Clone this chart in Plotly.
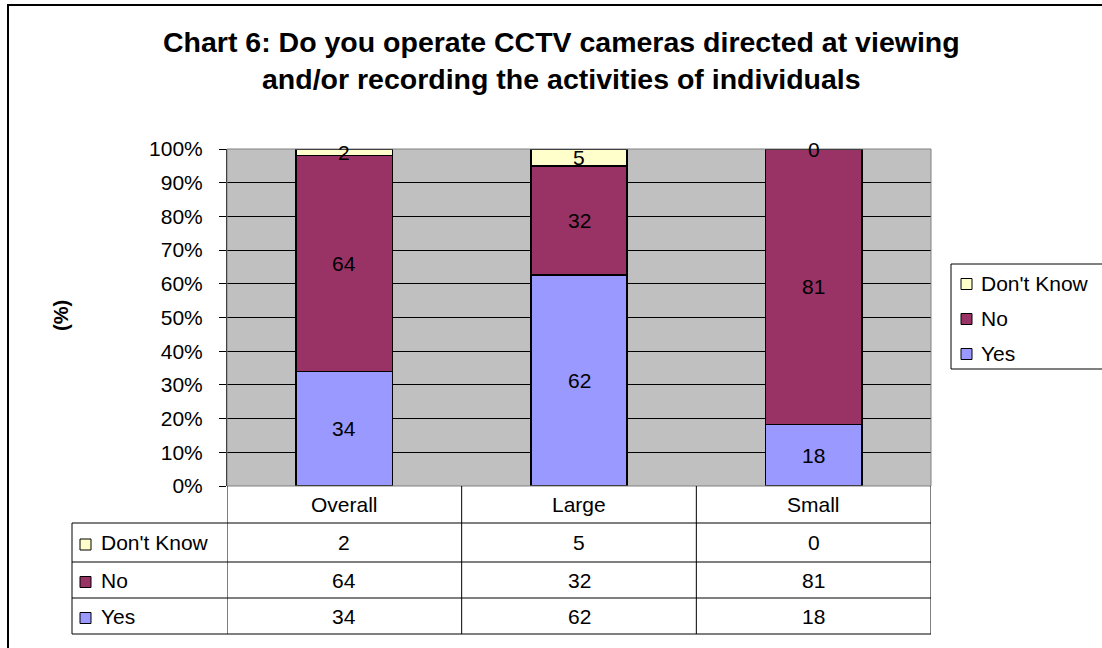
import plotly.graph_objects as go

# ---------------- data ----------------
categories = ["Overall", "Large", "Small"]
series_names = ["Yes", "No", "Don't Know"]
yes_vals = [34, 62, 18]
no_vals = [64, 32, 81]
dont_know_vals = [2, 5, 0]

title_text = ("Chart 6: Do you operate CCTV cameras directed at viewing<br>"
              "and/or recording the activities of individuals")
y_title = "(%)"

# ---------------- styles ----------------
colors = {"Yes": "#9999FF", "No": "#993366", "Don't Know": "#FFFFCC"}
FONT = "Liberation Sans, Arial, sans-serif"
FS = 21

W, H = 1102, 648
L, R, T, B = 227, 931, 149, 486  # plot area in page pixels
PW, PH = R - L, B - T


def px_x(p):
    return (p - L) / PW


def px_y(p):
    return (B - p) / PH


series_vals = {"Yes": yes_vals, "No": no_vals, "Don't Know": dont_know_vals}

fig = go.Figure()
for name in series_names:
    fig.add_trace(go.Bar(
        x=categories, y=series_vals[name], name=name,
        marker=dict(color=colors[name], line=dict(color="black", width=1.5)),
        width=0.41, showlegend=False, hoverinfo="skip",
    ))

annotations = []
shapes = []

# bar value labels (centred in each normalised segment)
totals = [sum(series_vals[n][i] for n in series_names) for i in range(len(categories))]
for i, cat in enumerate(categories):
    cum = 0
    for name in series_names:
        v = series_vals[name][i]
        mid = (cum + v / 2) / totals[i] * 100
        cum += v
        annotations.append(dict(x=cat, y=mid, xref="x", yref="y", text=str(v),
                                showarrow=False, font=dict(family=FONT, size=FS, color="black")))

# title
annotations.append(dict(x=px_x(561), y=px_y(60), xref="paper", yref="paper",
                        text="<b>" + title_text.replace("<br>", "</b><br><b>") + "</b>",
                        showarrow=False, xanchor="center", yanchor="middle",
                        font=dict(family=FONT, size=28.5, color="black")))
# y axis title
annotations.append(dict(x=px_x(48), y=px_y(316), xref="paper", yref="paper",
                        text="<b>" + y_title + "</b>", textangle=-90, showarrow=False,
                        font=dict(family=FONT, size=20, color="black")))

# outer border
shapes.append(dict(type="rect", xref="paper", yref="paper",
                   x0=px_x(8), x1=px_x(1130), y0=px_y(5), y1=px_y(680),
                   line=dict(color="black", width=2), fillcolor="rgba(0,0,0,0)", layer="below"))

# plot-area border (grey)
shapes.append(dict(type="rect", xref="paper", yref="paper", x0=0, x1=1, y0=0, y1=1,
                   line=dict(color="#808080", width=1), fillcolor="rgba(0,0,0,0)", layer="above"))

# ---------------- data table ----------------
row_order = ["Don't Know", "No", "Yes"]
hdr_bot = 523
row_bounds = [523, 562, 598, 634]
tbl_left = 72
line_style = dict(color="black", width=1)

for k in range(len(categories) + 1):
    shapes.append(dict(type="line", xref="x", yref="paper", x0=k - 0.5, x1=k - 0.5,
                       y0=px_y(B), y1=px_y(row_bounds[-1]), line=line_style))
shapes.append(dict(type="line", xref="paper", yref="paper", x0=px_x(tbl_left), x1=px_x(tbl_left),
                   y0=px_y(row_bounds[0]), y1=px_y(row_bounds[-1]), line=line_style))
for yb in row_bounds:
    shapes.append(dict(type="line", xref="paper", yref="paper", x0=px_x(tbl_left), x1=1,
                       y0=px_y(yb), y1=px_y(yb), line=line_style))

for cat in categories:
    annotations.append(dict(x=cat, y=px_y((B + hdr_bot) / 2), xref="x", yref="paper",
                            text=cat, showarrow=False, yanchor="middle",
                            font=dict(family=FONT, size=FS, color="black")))
for r, name in enumerate(row_order):
    yc = (row_bounds[r] + row_bounds[r + 1]) / 2
    shapes.append(dict(type="rect", xref="paper", yref="paper",
                       x0=px_x(80), x1=px_x(91), y0=px_y(yc + 2 - 5.5), y1=px_y(yc + 2 + 5.5),
                       fillcolor=colors[name], line=dict(color="black", width=1)))
    annotations.append(dict(x=px_x(99), y=px_y(yc), xref="paper", yref="paper", text=name,
                            showarrow=False, xanchor="left", yanchor="middle",
                            font=dict(family=FONT, size=FS, color="black")))
    for i, cat in enumerate(categories):
        annotations.append(dict(x=cat, y=px_y(yc), xref="x", yref="paper",
                                text=str(series_vals[name][i]), showarrow=False, yanchor="middle",
                                font=dict(family=FONT, size=FS, color="black")))

# ---------------- legend (drawn) ----------------
shapes.append(dict(type="rect", xref="paper", yref="paper",
                   x0=px_x(951), x1=px_x(1120), y0=px_y(264), y1=px_y(369),
                   line=dict(color="black", width=1), fillcolor="white"))
leg_y = [283, 318, 353]
for name, yy in zip(row_order, leg_y):
    shapes.append(dict(type="rect", xref="paper", yref="paper",
                       x0=px_x(961), x1=px_x(972), y0=px_y(yy + 1 - 5.5), y1=px_y(yy + 1 + 5.5),
                       fillcolor=colors[name], line=dict(color="black", width=1)))
    annotations.append(dict(x=px_x(979), y=px_y(yy), xref="paper", yref="paper", text=name,
                            showarrow=False, xanchor="left", yanchor="middle",
                            font=dict(family=FONT, size=FS, color="black")))

fig.update_layout(
    width=W, height=H,
    margin=dict(l=L, r=W - R, t=T, b=H - B, pad=0),
    barmode="stack", barnorm="percent",
    paper_bgcolor="white", plot_bgcolor="#C0C0C0",
    font=dict(family=FONT, size=FS, color="black"),
    showlegend=False,
    annotations=annotations, shapes=shapes,
    xaxis=dict(range=[-0.5, 2.5], showticklabels=False, ticks="", showgrid=False,
               zeroline=False, showline=False, fixedrange=True),
    yaxis=dict(range=[0, 100], dtick=10, ticksuffix="%", ticks="outside", ticklen=7,
               tickcolor="black", tickwidth=1, showline=True, linecolor="black", linewidth=1,
               gridcolor="black", gridwidth=1, zeroline=False, ticklabelstandoff=12,
               tickfont=dict(family=FONT, size=FS, color="black"), fixedrange=True),
)

fig.write_html(
    "out.html",
    config={"displayModeBar": False},
    post_script="document.body.style.margin='0';document.body.style.overflow='hidden';",
)
